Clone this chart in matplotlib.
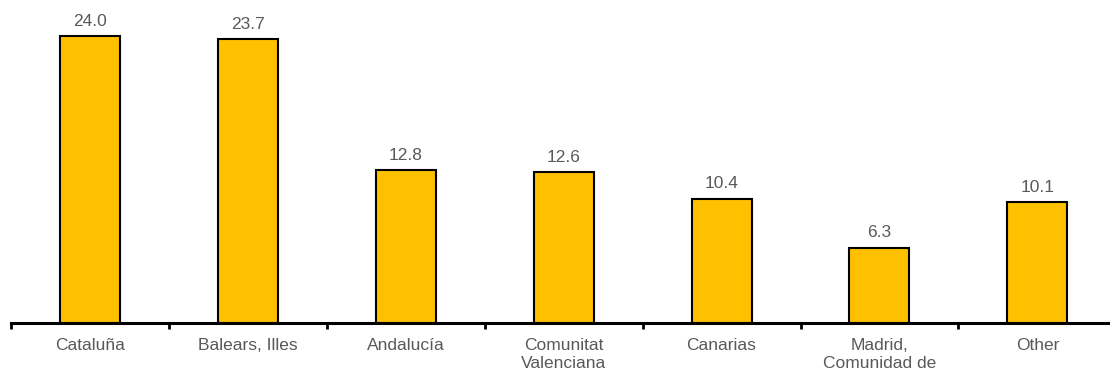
import matplotlib.pyplot as plt
import numpy as np

plt.rcParams['font.family'] = ['Liberation Sans', 'DejaVu Sans']

regions = ['Cataluña', 'Balears, Illes', 'Andalucía', 'Comunitat\nValenciana',
           'Canarias', 'Madrid,\nComunidad de', 'Other']
shares = [24.0, 23.7, 12.8, 12.6, 10.4, 6.3, 10.1]

grey = '#595959'
gold = '#FFC000'

fig = plt.figure(figsize=(11.1, 3.74), dpi=100)
ax = fig.add_axes([11 / 1110, 51 / 374, 1.0 - 11 / 1110, 323 / 374])

x = np.arange(len(regions))
bars = ax.bar(x, shares, width=0.38, color=gold, edgecolor='black', linewidth=1.5, zorder=2)

for b, v in zip(bars, shares):
    ax.text(b.get_x() + b.get_width() / 2, v + 0.6, f'{v:.1f}',
            ha='center', va='bottom', fontsize=12.5, color=grey)

ax.set_xlim(-0.5, 6.46)
ax.set_ylim(0, 27)

ax.set_xticks(x)
ax.set_xticklabels(regions, fontsize=12.5, color=grey, linespacing=1.25, va='top')
ax.tick_params(axis='x', which='major', length=0, pad=11)
ax.set_xticks(np.arange(len(regions)) - 0.5, minor=True)
ax.tick_params(axis='x', which='minor', length=4, width=2, color='black', direction='out')

ax.set_yticks([])
for side in ['left', 'right', 'top']:
    ax.spines[side].set_visible(False)
ax.spines['bottom'].set_linewidth(2.2)
ax.spines['bottom'].set_zorder(3)

fig.savefig('out.png', dpi=100)
